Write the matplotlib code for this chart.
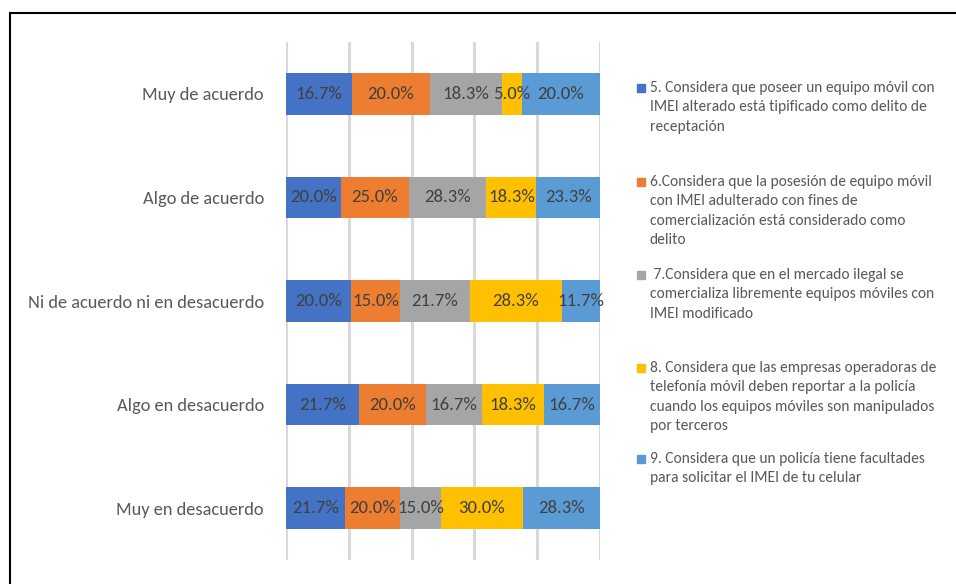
import numpy as np
import matplotlib.pyplot as plt
from matplotlib.patches import Rectangle

plt.rcParams['font.family'] = ['Carlito', 'Lato', 'DejaVu Sans']

# ---------------- data ----------------
categories = ['Muy de acuerdo', 'Algo de acuerdo', 'Ni de acuerdo ni en desacuerdo',
              'Algo en desacuerdo', 'Muy en desacuerdo']

q5 = [16.7, 20.0, 20.0, 21.7, 21.7]
q6 = [20.0, 25.0, 15.0, 20.0, 20.0]
q7 = [18.3, 28.3, 21.7, 16.7, 15.0]
q8 = [5.0, 18.3, 28.3, 18.3, 30.0]
q9 = [20.0, 23.3, 11.7, 16.7, 28.3]

series_labels = [
    '5. Considera que poseer un equipo móvil con\nIMEI alterado está tipificado como delito de\nreceptación',
    '6.Considera que la posesión de equipo móvil\ncon IMEI adulterado con fines de\ncomercialización está considerado como\ndelito',
    ' 7.Considera que en el mercado ilegal se\ncomercializa libremente equipos móviles con\nIMEI modificado',
    '8. Considera que las empresas operadoras de\ntelefonía móvil deben reportar a la policía\ncuando los equipos móviles son manipulados\npor terceros',
    '9. Considera que un policía tiene facultades\npara solicitar el IMEI de tu celular',
]
colors = ['#4472C4', '#ED7D31', '#A5A5A5', '#FFC000', '#5B9BD5']

# ---------------- figure ----------------
W, H = 956, 584
fig = plt.figure(figsize=(W / 100, H / 100), dpi=100)
ax = fig.add_axes([286 / W, 1 - 560 / H, (600 - 286) / W, (560 - 42) / H])

values = np.array([q5, q6, q7, q8, q9]).T        # rows = categories
shares = values / values.sum(axis=1, keepdims=True)  # 100% stacked
y = np.arange(len(categories))

left = np.zeros(len(categories))
for j in range(values.shape[1]):
    bars = ax.barh(y, shares[:, j], left=left, height=0.4, color=colors[j], zorder=3)
    for i, b in enumerate(bars):
        ax.text(b.get_x() + b.get_width() / 2, b.get_y() + b.get_height() / 2,
                f'{values[i, j]:.1f}%', ha='center', va='center',
                color='#404040', fontsize=13.5, zorder=4)
    left += shares[:, j]

ax.set_xlim(0, 1)
ax.set_ylim(len(categories) - 0.5, -0.5)
ax.set_xticks(np.linspace(0, 1, 6))
ax.set_xticklabels([])
ax.set_yticks(y)
ax.set_yticklabels(categories, color='#595959', fontsize=13.2, va='center_baseline')
ax.tick_params(length=0, pad=16)
ax.grid(axis='x', color='#D9D9D9', linewidth=2.2, zorder=0)
for s in ax.spines.values():
    s.set_visible(False)

# ---------------- legend (drawn by hand, Excel style) ----------------
first_line_y = [88, 182, 275, 368, 459]
for lab, col, yc in zip(series_labels, colors, first_line_y):
    fig.patches.append(Rectangle((637 / W, 1 - (yc + 4) / H), 8 / W, 8 / H,
                                 transform=fig.transFigure, color=col))
    fig.text(650 / W, 1 - (yc - 7) / H, lab, ha='left', va='top',
             fontsize=11.2, color='#595959', linespacing=1.48)

# outer frame (left and top edges visible)
fig.patches.append(Rectangle((9.5 / W, -0.1), 1.2, 1.1 - 13 / H,
                             transform=fig.transFigure, fill=False,
                             edgecolor='black', linewidth=1.5))

fig.savefig('out.png', dpi=100)
